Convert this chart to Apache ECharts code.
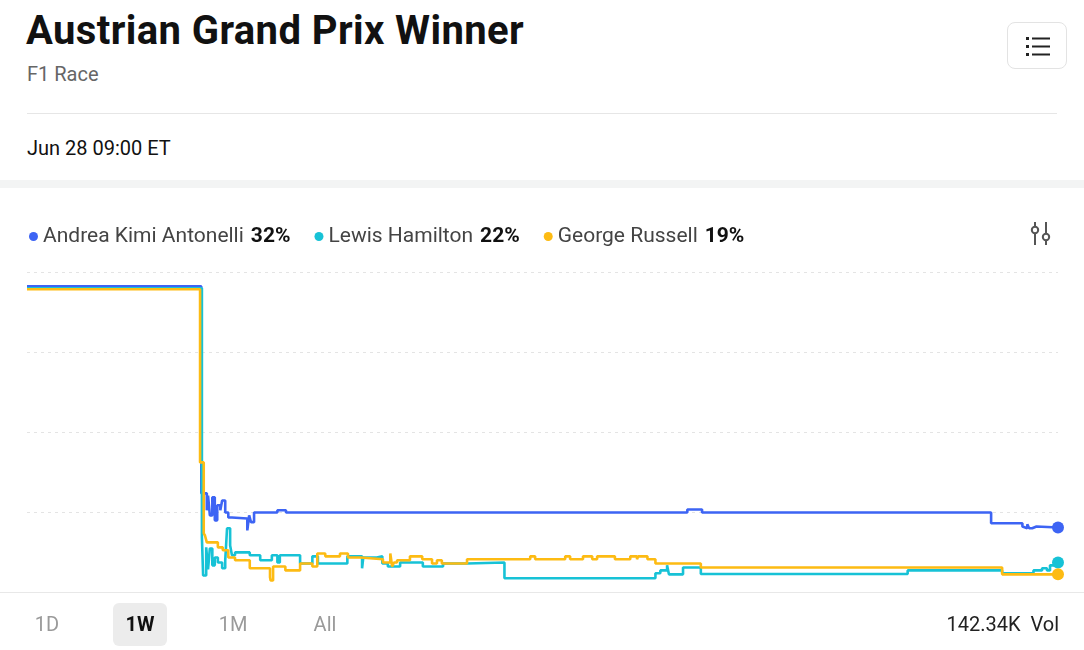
<!DOCTYPE html>
<html>
<head>
<meta charset="utf-8">
<title>Austrian Grand Prix Winner</title>
<script src="https://cdn.jsdelivr.net/npm/echarts@6/dist/echarts.min.js"></script>
<style>
    body {
        margin: 0;
        width: 1084px;
        height: 650px;
        background: #fff;
        font-family: Roboto, "Noto Sans", sans-serif;
        position: relative;
        overflow: hidden;
    }
    .title {
        position: absolute;
        left: 26px;
        top: 7px;
        font-size: 40px;
        font-weight: 700;
        color: #111;
        letter-spacing: 0.4px;
    }
    .subtitle {
        position: absolute;
        left: 27px;
        top: 62px;
        font-size: 20px;
        color: #666;
    }
    .divider {
        position: absolute;
        left: 27px;
        right: 27px;
        top: 113px;
        border-top: 1px solid #e6e6e6;
    }
    .date {
        position: absolute;
        left: 27px;
        top: 136px;
        font-size: 20px;
        color: #111;
    }
    .band {
        position: absolute;
        left: 0;
        right: 0;
        top: 180px;
        height: 8px;
        background: #f3f4f4;
    }
    .menu {
        position: absolute;
        left: 1007px;
        top: 22px;
        width: 60px;
        height: 47px;
        border: 1px solid #e3e3e3;
        border-radius: 8px;
        box-sizing: border-box;
    }
    .menu svg { position: absolute; left: 17px; top: 11px; }
    .filter { position: absolute; left: 1030px; top: 221px; }
    #chart {
        position: absolute;
        left: 0;
        top: 188px;
        width: 1084px;
        height: 405px;
    }
    .bottom {
        position: absolute;
        left: 0;
        right: 0;
        top: 592px;
        height: 58px;
        border-top: 1px solid #e8e8e8;
        font-size: 20px;
    }
    .range {
        position: absolute;
        top: 10px;
        height: 43px;
        line-height: 43px;
        text-align: center;
        color: #9a9a9a;
    }
    .range.active {
        background: #ececec;
        border-radius: 6px;
        color: #111;
        font-weight: 700;
    }
    .vol {
        position: absolute;
        right: 25px;
        top: 10px;
        line-height: 43px;
        color: #222;
    }
</style>
</head>
<body>
    <div class="title">Austrian Grand Prix Winner</div>
    <div class="subtitle">F1 Race</div>
    <div class="divider"></div>
    <div class="date">Jun 28 09:00 ET</div>
    <div class="band"></div>
    <div class="menu">
        <svg width="26" height="26" viewBox="0 0 26 26">
            <rect x="1" y="3" width="3" height="3" fill="#222"/>
            <rect x="1" y="11" width="3" height="3" fill="#222"/>
            <rect x="1" y="19" width="3" height="3" fill="#222"/>
            <rect x="7" y="3.5" width="18" height="2" fill="#222"/>
            <rect x="7" y="11.5" width="18" height="2" fill="#222"/>
            <rect x="7" y="19.5" width="18" height="2" fill="#222"/>
        </svg>
    </div>
    <svg class="filter" width="22" height="26" viewBox="0 0 22 26">
        <g stroke="#555" stroke-width="2" fill="#fff">
            <line x1="5" y1="1" x2="5" y2="24"/>
            <line x1="16" y1="1" x2="16" y2="24"/>
            <circle cx="5" cy="9" r="3.2"/>
            <circle cx="16" cy="16" r="3.2"/>
        </g>
    </svg>
    <div id="chart"></div>
    <div class="bottom">
        <div class="range" style="left:27px;width:40px">1D</div>
        <div class="range active" style="left:113px;width:54px">1W</div>
        <div class="range" style="left:213px;width:40px">1M</div>
        <div class="range" style="left:305px;width:40px">All</div>
        <div class="vol">142.34K&nbsp;&nbsp;Vol</div>
    </div>

<script>
// outcomes and latest chance (%)
const names = ['Andrea Kimi Antonelli', 'Lewis Hamilton', 'George Russell']
const latest = [32, 22, 19]
const colors = ['#3d64f4', '#17c2d6', '#fdbb13']

// [hours since start of week, chance %] at each price change
const antonelli = [
    [0, 98.9], [28.4, 41.4], [29.3, 36.7], [29.5, 40.8], [29.8, 35.3], [30.2, 40.3],
    [30.6, 33.9], [31.0, 38.1], [31.5, 36.7], [31.8, 39.4], [32.3, 36.1], [32.8, 34.7],
    [33.4, 34.4], [35.9, 31.1], [36.2, 35.3], [36.5, 33.4], [37.0, 36.1], [40.8, 36.7],
    [42.2, 36.1], [107.6, 36.9], [110.0, 36.1], [157.1, 33.1], [162.2, 32.2], [162.5, 31.7],
    [163.0, 32.8], [163.3, 31.7], [163.8, 32.2], [164.5, 31.9], [168, 31.9]
]
const hamilton = [
    [0, 98.4], [28.5, 29.2], [28.7, 18.6], [29.2, 26.4], [29.5, 20.3], [29.8, 26.1],
    [30.2, 21.4], [30.6, 23.6], [31.1, 22.2], [31.8, 20.6], [32.3, 22.8], [32.6, 31.7],
    [33.1, 26.9], [33.4, 24.2], [33.9, 25.0], [36.3, 24.2], [38.0, 22.8], [39.9, 24.2],
    [40.8, 22.2], [41.2, 24.2], [44.5, 21.9], [46.5, 23.9], [47.4, 21.9], [52.2, 23.9],
    [54.6, 20.6], [54.8, 23.6], [57.0, 23.9], [57.9, 21.9], [58.8, 21.1], [60.8, 22.2],
    [64.5, 21.1], [67.8, 21.9], [71.7, 22.2], [77.8, 17.8], [102.4, 19.2], [103.2, 20.0],
    [104.3, 21.4], [104.6, 18.9], [106.9, 20.8], [109.8, 19.0], [143.5, 20.0], [158.9, 19.2],
    [164.0, 20.0], [165.4, 20.6], [166.2, 20.0], [166.7, 21.4], [167.6, 22.2], [168, 22.2]
]
const russell = [
    [0, 98.1], [28.2, 50.0], [28.8, 30.3], [29.0, 29.7], [29.3, 27.8], [31.1, 26.4],
    [31.9, 25.6], [32.8, 23.6], [33.9, 22.8], [36.3, 20.6], [39.6, 18.1], [39.7, 17.2],
    [40.1, 21.1], [42.1, 20.0], [44.5, 21.9], [46.5, 21.1], [47.3, 24.7], [48.6, 23.9],
    [51.0, 24.7], [52.3, 23.6], [54.3, 23.1], [58.0, 22.2], [59.2, 24.7], [59.5, 21.1],
    [59.8, 22.2], [60.3, 22.8], [62.4, 23.9], [64.4, 23.1], [66.0, 21.9], [66.8, 22.8],
    [67.6, 21.9], [71.7, 23.1], [82.0, 23.9], [82.8, 23.1], [87.7, 23.9], [88.5, 23.1],
    [90.6, 23.9], [92.1, 23.1], [92.9, 23.9], [95.8, 23.1], [98.3, 23.9], [99.4, 23.1],
    [99.6, 23.9], [101.1, 23.1], [102.4, 21.9], [109.8, 20.8], [158.9, 18.9], [168, 18.9]
]
const seriesData = [antonelli, hamilton, russell]

// end dot only on the last point
function withEndDot (points, color) {
    return points.map(function (p, i) {
        if (i === points.length - 1) {
            return { value: p, symbol: 'circle', symbolSize: 12, itemStyle: { color: color } }
        }
        return { value: p, symbol: 'none' }
    })
}

let chart = echarts.init(document.getElementById('chart'))
chart.setOption({
    animation: false,
    color: colors,
    legend: {
        left: 24,
        top: 33,
        icon: 'circle',
        itemWidth: 9,
        itemHeight: 9,
        itemGap: 24,
        data: names,
        formatter: function (name) {
            return '{n|' + name + '}{p|' + latest[names.indexOf(name)] + '%}'
        },
        textStyle: {
            rich: {
                n: { fontSize: 21, color: '#444', fontFamily: 'Roboto', padding: [0, 7, 0, 0] },
                p: { fontSize: 21, color: '#111', fontWeight: 'bold', fontFamily: 'Roboto' }
            }
        }
    },
    grid: {
        left: 27,
        right: 26,
        top: 84,
        bottom: 1
    },
    xAxis: {
        type: 'value',
        min: 0,
        max: 168,
        show: false
    },
    yAxis: [
        {
            type: 'value',
            min: 14,
            max: 102.9,
            show: false
        },
        {
            // only used for the dashed guide lines
            type: 'value',
            min: 0,
            max: 4,
            interval: 1,
            axisLine: { show: false },
            axisTick: { show: false },
            axisLabel: { show: false },
            splitLine: {
                show: true,
                lineStyle: { color: '#e4e4e4', type: [3, 4], width: 1 }
            }
        }
    ],
    series: names.map(function (name, i) {
        return {
            name: name,
            type: 'line',
            step: 'end',
            yAxisIndex: 0,
            showSymbol: true,
            lineStyle: { width: 2.6, color: colors[i] },
            itemStyle: { color: colors[i] },
            data: withEndDot(seriesData[i], colors[i])
        }
    })
})
</script>
</body>
</html>
